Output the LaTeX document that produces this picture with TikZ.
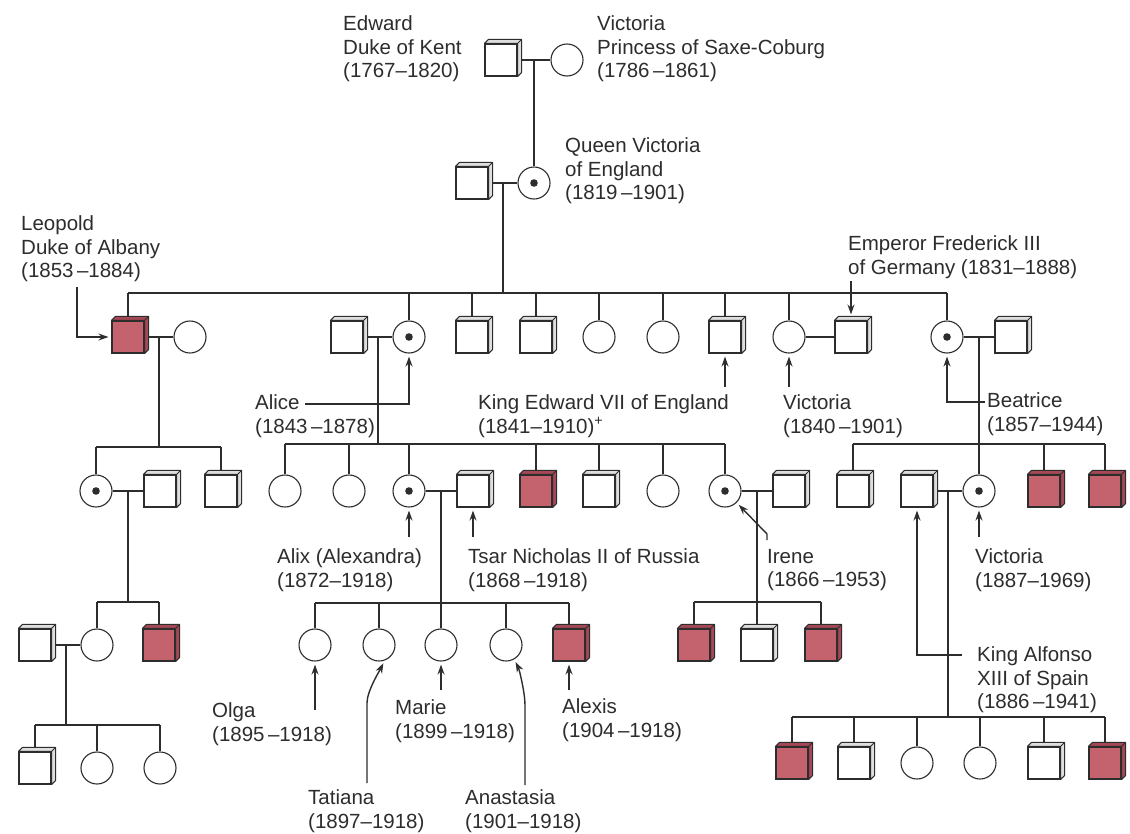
\documentclass[tikz,border=0pt]{standalone}
\usepackage{fontspec}
\newfontfamily\labf{Liberation Sans}
\usetikzlibrary{calc,arrows.meta}
\definecolor{ink}{RGB}{45,45,45}
\definecolor{rose}{RGB}{196,98,110}
\definecolor{rosedark}{RGB}{165,72,85}
\definecolor{side}{RGB}{222,222,222}
\newcommand\mkcube[2]{%
  \filldraw[fill=#2, draw=ink, line width=1pt, line join=round]
   (#1.north west) -- ([shift={(4,-4)}]#1.north west) -- ([shift={(4,-4)}]#1.north east)
   -- ([shift={(4,-4)}]#1.south east) -- (#1.south east) -- (#1.north east) -- cycle;
  \draw[ink, line width=1pt] (#1.north east) -- ([shift={(4,-4)}]#1.north east);}
\begin{document}
\begin{tikzpicture}[x=1pt,y=-1pt,
  ln/.style={draw=ink, line width=1.5pt},
  sq/.style={rectangle, draw=ink, line width=1.1pt, minimum size=32pt, inner sep=0pt, fill=white},
  rsq/.style={sq, fill=rose},
  circ/.style={circle, draw=ink, line width=1.1pt, minimum size=32pt, inner sep=0pt, fill=white},
  cdot/.style={circ, path picture={\fill[ink] (path picture bounding box.center) circle (3.8pt);}},
  lab/.style={anchor=west, align=left, inner sep=0pt, text=ink, font=\labf\fontsize{20.5}{23.5}\selectfont},
  arr/.style={draw=ink, line width=1.4pt, -{Stealth[length=10pt,width=7pt]}, shorten >=3pt}]
\useasboundingbox (0,0) rectangle (1130,833);
\fill[white] (0,0) rectangle (1130,833);

% ---------- row coordinates for sibling bars
\coordinate (g2) at (0,293);
\coordinate (gL) at (0,447);
\coordinate (gA) at (0,444);
\coordinate (gB) at (0,444);
\coordinate (gL4) at (0,602);
\coordinate (gN) at (0,603);
\coordinate (gI) at (0,602);
\coordinate (gL5) at (0,725);
\coordinate (gF) at (0,717);

% ---------- generation 1
\node[sq] (ed) at (501,60) {};
\node[circ] (vps) at (567,60) {};
% ---------- generation 2
\node[sq] (alb) at (472,183) {};
\node[cdot] (qv) at (534,183) {};
% ---------- generation 3
\node[rsq] (leo) at (128,337) {};
\node[circ] (leow) at (190,337) {};
\node[sq] (alh) at (347,337) {};
\node[cdot] (alice) at (409,337) {};
\node[sq] (s1) at (472,337) {};
\node[sq] (s2) at (536,337) {};
\node[circ] (c1) at (599,337) {};
\node[circ] (c2) at (663,337) {};
\node[sq] (edw) at (725,337) {};
\node[circ] (vic) at (789,337) {};
\node[sq] (fred) at (851,337) {};
\node[cdot] (bea) at (947,337) {};
\node[sq] (beah) at (1011,337) {};
% ---------- generation 4
\node[cdot] (lk1) at (96,491) {};
\node[sq] (lk1h) at (160,491) {};
\node[sq] (lk2) at (221,491) {};
\node[circ] (a1) at (285,491) {};
\node[circ] (a2) at (349,491) {};
\node[cdot] (alix) at (409,491) {};
\node[sq] (nich) at (473,491) {};
\node[rsq] (a4) at (536,491) {};
\node[sq] (a5) at (599,491) {};
\node[circ] (a6) at (663,491) {};
\node[cdot] (irene) at (725,491) {};
\node[sq] (ireneh) at (789,491) {};
\node[sq] (b1) at (853,491) {};
\node[sq] (alf) at (917,491) {};
\node[cdot] (vic2) at (979,491) {};
\node[rsq] (b3) at (1044,491) {};
\node[rsq] (b4) at (1105,491) {};
% ---------- generation 5
\node[sq] (l4h) at (35,645) {};
\node[circ] (l4) at (97,645) {};
\node[rsq] (l4b) at (159,645) {};
\node[circ] (olga) at (315,645) {};
\node[circ] (tat) at (379,645) {};
\node[circ] (marie) at (441,645) {};
\node[circ] (anas) at (506,645) {};
\node[rsq] (alexis) at (569,645) {};
\node[rsq] (i1) at (694,645) {};
\node[sq] (i2) at (757,645) {};
\node[rsq] (i3) at (821,645) {};
% ---------- generation 6
\node[sq] (l5a) at (35,768) {};
\node[circ] (l5b) at (97,768) {};
\node[circ] (l5c) at (160,768) {};
\node[rsq] (f1) at (792,763) {};
\node[sq] (f2) at (854,763) {};
\node[circ] (f3) at (917,763) {};
\node[circ] (f4) at (980,763) {};
\node[sq] (f5) at (1044,763) {};
\node[rsq] (f6) at (1105,763) {};

% ---------- marriage midpoints
\coordinate (m1) at ($(ed.east)!0.5!(vps.west)$);
\coordinate (m2) at ($(alb.east)!0.5!(qv.west)$);
\coordinate (mLeo) at ($(leo.east)!0.5!(leow.west)$);
\coordinate (mAl) at ($(alh.east)!0.5!(alice.west)$);
\coordinate (mBe) at ($(bea.east)!0.5!(beah.west)$);
\coordinate (mLk) at ($(lk1.east)!0.5!(lk1h.west)$);
\coordinate (mNi) at ($(alix.east)!0.5!(nich.west)$);
\coordinate (mIr) at ($(irene.east)!0.5!(ireneh.west)$);
\coordinate (mAf) at ($(alf.east)!0.5!(vic2.west)$);
\coordinate (mL4) at ($(l4h.east)!0.5!(l4.west)$);

\draw[ln] (ed.east) -- (vps.west);
\draw[ln] (m1) -- (m1 |- qv.north);
\draw[ln] (alb.east) -- (qv.west);
\draw[ln] (m2) -- (m2 |- g2);
\draw[ln] (leo |- g2) -- (bea |- g2);
\foreach \n in {leo,alice,s1,s2,c1,c2,edw,vic,bea} \draw[ln] (\n.north) -- (\n |- g2);
\draw[ln] (vic.east) -- (fred.west);

\draw[ln] (leo.east) -- (leow.west);
\draw[ln] (mLeo) -- (mLeo |- gL);
\draw[ln] (lk1 |- gL) -- (lk2 |- gL);
\foreach \n in {lk1,lk2} \draw[ln] (\n.north) -- (\n |- gL);

\draw[ln] (alh.east) -- (alice.west);
\draw[ln] (mAl) -- (mAl |- gA);
\draw[ln] (a1 |- gA) -- (irene |- gA);
\foreach \n in {a1,a2,alix,a4,a5,a6,irene} \draw[ln] (\n.north) -- (\n |- gA);

\draw[ln] (bea.east) -- (beah.west);
\draw[ln] (mBe) -- (mBe |- gB);
\draw[ln] (b1 |- gB) -- (b4 |- gB);
\foreach \n in {b1,vic2,b3,b4} \draw[ln] (\n.north) -- (\n |- gB);

\draw[ln] (lk1.east) -- (lk1h.west);
\draw[ln] (mLk) -- (mLk |- gL4);
\draw[ln] (l4 |- gL4) -- (l4b |- gL4);
\foreach \n in {l4,l4b} \draw[ln] (\n.north) -- (\n |- gL4);

\draw[ln] (l4h.east) -- (l4.west);
\draw[ln] (mL4) -- (mL4 |- gL5);
\draw[ln] (l5a |- gL5) -- (l5c |- gL5);
\foreach \n in {l5a,l5b,l5c} \draw[ln] (\n.north) -- (\n |- gL5);

\draw[ln] (alix.east) -- (nich.west);
\draw[ln] (mNi) -- (mNi |- gN);
\draw[ln] (olga |- gN) -- (alexis |- gN);
\foreach \n in {olga,tat,marie,anas,alexis} \draw[ln] (\n.north) -- (\n |- gN);

\draw[ln] (irene.east) -- (ireneh.west);
\draw[ln] (mIr) -- (mIr |- gI);
\draw[ln] (i1 |- gI) -- (i3 |- gI);
\foreach \n in {i1,i2,i3} \draw[ln] (\n.north) -- (\n |- gI);

\draw[ln] (alf.east) -- (vic2.west);
\draw[ln] (mAf) -- (mAf |- gF);
\draw[ln] (f1 |- gF) -- (f6 |- gF);
\foreach \n in {f1,f2,f3,f4,f5,f6} \draw[ln] (\n.north) -- (\n |- gF);

% ---------- 3-D edges of the squares
\foreach \n in {ed,alb,alh,s1,s2,edw,fred,beah,lk1h,lk2,nich,a5,ireneh,b1,alf,
  l4h,i2,l5a,f2,f5} {\mkcube{\n}{side}}
\foreach \n in {leo,a4,b3,b4,l4b,alexis,i1,i3,f1,f6} {\mkcube{\n}{rosedark}}

% ---------- labels
\node[lab] (edlab) at (343,49) {Edward\\Duke of Kent\\(1767–1820)};
\node[lab] (vpslab) at (597,49) {Victoria\\Princess of Saxe-Coburg\\(1786\,–1861)};
\node[lab] (qvlab) at (565,171) {Queen Victoria\\of England\\(1819\,–1901)};
\node[lab] (leolab) at (21,249) {Leopold\\Duke of Albany\\(1853\,–1884)};
\node[lab] (fredlab) at (848,257) {Emperor Frederick III\\of Germany (1831–1888)};
\node[lab] (alicelab) at (255,416) {Alice\\(1843\,–1878)};
\node[lab] (edwlab) at (478,416) {King Edward VII of England\\(1841–1910)\textsuperscript{+}};
\node[lab] (viclab) at (783,416) {Victoria\\(1840\,–1901)};
\node[lab] (bealab) at (987,414) {Beatrice\\(1857–1944)};
\node[lab] (alixlab) at (277,570) {Alix (Alexandra)\\(1872–1918)};
\node[lab] (nichlab) at (468,570) {Tsar Nicholas II of Russia\\(1868\,–1918)};
\node[lab] (irenelab) at (767,570) {Irene\\(1866\,–1953)};
\node[lab] (vic2lab) at (975,570) {Victoria\\(1887–1969)};
\node[lab] (alflab) at (977,680) {King Alfonso\\XIII of Spain\\(1886\,–1941)};
\node[lab] (olgalab) at (212,724) {Olga\\(1895\,–1918)};
\node[lab] (marielab) at (395,721) {Marie\\(1899\,–1918)};
\node[lab] (alexislab) at (562,720) {Alexis\\(1904\,–1918)};
\node[lab] (tatlab) at (308,811) {Tatiana\\(1897–1918)};
\node[lab] (anaslab) at (465,811) {Anastasia\\(1901–1918)};

% ---------- arrows
\coordinate (leoA) at (77,287);
\coordinate (aliceA) at (305,404);
\coordinate (edwA) at (725,387);
\coordinate (vicA) at (789,387);
\coordinate (fredA) at (851,281);
\coordinate (beaA) at (985,402);
\coordinate (alixA) at (409,537);
\coordinate (nichA) at (473,537);
\coordinate (ireneA) at (767,540);
\coordinate (vic2A) at (979,537);
\coordinate (alfA) at (962,655);
\coordinate (olgaA) at (315,710);
\coordinate (tatA) at (367,783);
\coordinate (marieA) at (441,690);
\coordinate (anasA) at (525,785);
\coordinate (alexisA) at (569,690);

\draw[arr] (leoA) |- (leo.west);
\draw[arr] (aliceA) -| (alice.south);
\draw[arr] (edwA) -- (edw.south);
\draw[arr] (vicA) -- (vic.south);
\draw[arr, shorten >=6pt] (fredA) -- (fred.north);
\draw[arr] (beaA) -| (bea.south);
\draw[arr] (alixA) -- (alix.south);
\draw[arr] (nichA) -- (nich.south);
\draw[arr] (ireneA) -- ++(0,-6) -- (irene.315);
\draw[arr] (vic2A) -- (vic2.south);
\draw[arr] (alfA) -| (alf.south);
\draw[arr] (olgaA) -- (olga.south);
\draw[arr] (tatA) -- ++(0,-80) .. controls +(0,-12) and +(-5,10) .. (tat.290);
\draw[arr] (marieA) -- (marie.south);
\draw[arr] (anasA) -- ++(0,-80) .. controls +(0,-12) and +(5,10) .. (anas.300);
\draw[arr] (alexisA) -- (alexis.south);
\end{tikzpicture}
\end{document}
